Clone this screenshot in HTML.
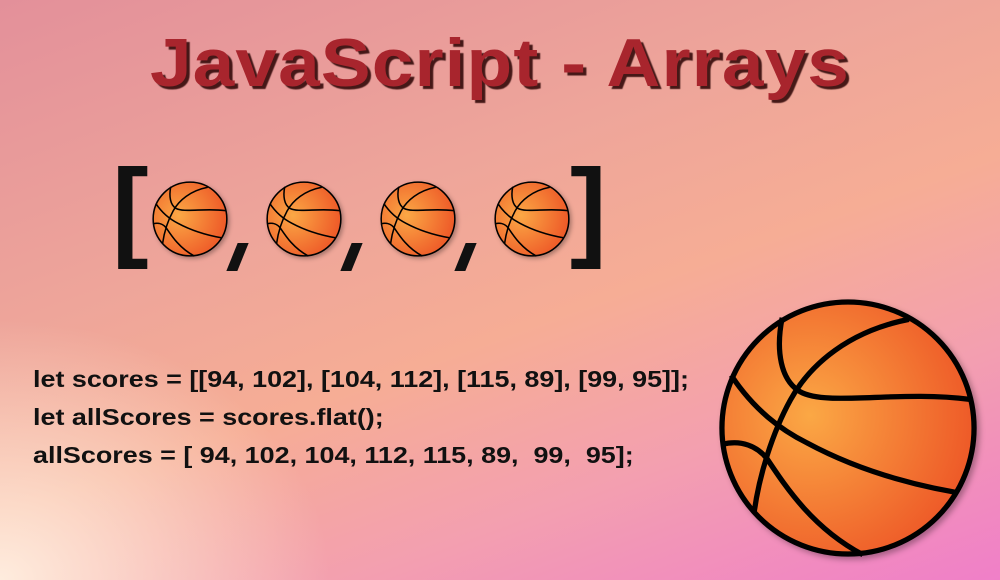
<!DOCTYPE html>
<html><head><style>
body{margin:0}
#c{position:relative;width:1000px;height:580px;overflow:hidden;font-family:"Liberation Sans",sans-serif;
background:linear-gradient(160deg,#e3909a 0%,#eea59a 35%,#f6ad95 55%,#f39fb0 75%,#f07fc8 100%);}
#ov{position:absolute;inset:0;background:radial-gradient(ellipse 330px 260px at 0% 100%,rgba(255,240,225,.95),rgba(255,235,220,0) 100%);}
h1{position:absolute;left:0;width:1000px;top:24px;margin:0;text-align:center;font-size:68px;font-weight:bold;color:#a8252d;letter-spacing:1px;text-shadow:3px 3px 1px rgba(40,0,0,.85);transform:scaleX(1.1);}
.code{position:absolute;left:33px;font-size:23px;font-weight:bold;color:#111;white-space:pre;transform:scaleX(1.17);transform-origin:0 0}
.br{position:absolute;font-size:110px;font-weight:bold;color:#111;top:145px}
.cm{position:absolute;width:11px;height:28px;background:#111;transform:skewX(-22deg);top:243px}
</style></head><body><div id="c"><div id="ov"></div>
<svg width="0" height="0" style="position:absolute"><defs>
<radialGradient id="g" cx="0.35" cy="0.45" r="0.65"><stop offset="0" stop-color="#fba845"/><stop offset="1" stop-color="#ee5a28"/></radialGradient>
<symbol id="ball" viewBox="50 20 790 790">
<circle cx="445" cy="415" r="383" fill="url(#g)" stroke="#000" stroke-width="16"/>
<g fill="none" stroke="#000" stroke-width="16">
<path d="M245 80 C225 180 240 270 300 305 C380 350 600 300 815 328"/>
<path d="M630 85 C450 120 330 220 270 330 C215 430 175 560 160 670"/>
<path d="M90 255 C160 360 240 420 320 460 C450 530 600 580 770 610"/>
<path d="M62 465 C120 450 170 470 200 510 C260 600 340 720 490 800"/>
</g></symbol></defs></svg>
<h1>JavaScript - Arrays</h1>
<div class="br" style="left:112px">[</div>
<div class="br" style="left:570px">]</div>
<svg style="position:absolute;left:152px;top:181px;filter:drop-shadow(2px 2px 2px rgba(0,0,0,.3))" width="76" height="76"><use href="#ball"/></svg>
<svg style="position:absolute;left:266px;top:181px;filter:drop-shadow(2px 2px 2px rgba(0,0,0,.3))" width="76" height="76"><use href="#ball"/></svg>
<svg style="position:absolute;left:380px;top:181px;filter:drop-shadow(2px 2px 2px rgba(0,0,0,.3))" width="76" height="76"><use href="#ball"/></svg>
<svg style="position:absolute;left:494px;top:181px;filter:drop-shadow(2px 2px 2px rgba(0,0,0,.3))" width="76" height="76"><use href="#ball"/></svg>
<div class="cm" style="left:232px"></div>
<div class="cm" style="left:346px"></div>
<div class="cm" style="left:460px"></div>
<svg style="position:absolute;left:718px;top:298px;filter:drop-shadow(3px 3px 3px rgba(0,0,0,.3))" width="260" height="260"><use href="#ball"/></svg>
<div class="code" style="top:366px">let scores = [[94, 102], [104, 112], [115, 89], [99, 95]];</div>
<div class="code" style="top:404px">let allScores = scores.flat();</div>
<div class="code" style="top:442px">allScores = [ 94, 102, 104, 112, 115, 89,  99,  95];</div>
</div></body></html>
